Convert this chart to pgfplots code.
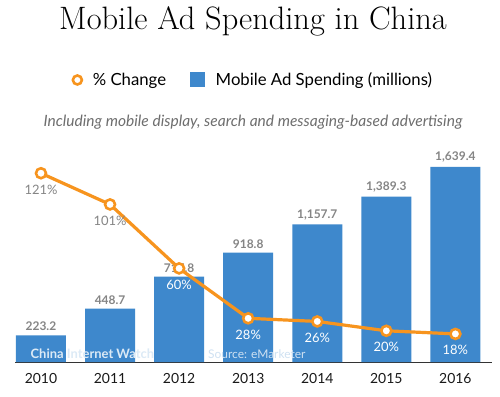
\documentclass[border=0pt]{standalone}
\usepackage{pgfplots}
\pgfplotsset{compat=1.18}
\usepackage{fontspec}
\setsansfont{Lato}
\newfontfamily\latofont{Lato}
\definecolor{barblue}{HTML}{3E88CC}
\definecolor{lineorange}{HTML}{F7941E}
\definecolor{labelgray}{HTML}{858585}
\definecolor{subgray}{HTML}{6E6E6E}
\begin{document}
\begin{tikzpicture}
\fill[white] (0,0) rectangle (500bp,397bp);
% title
\node[anchor=base, font=\fontsize{32.5}{32.5}\selectfont] at (253bp,367bp) {Mobile Ad Spending in China};
% subtitle
\node[anchor=base, font=\latofont\itshape\fontsize{15.6}{15.6}\selectfont, text=subgray] at (253bp,270bp) {Including mobile display, search and messaging-based advertising};
% bar axis
\begin{axis}[
  at={(15bp,35bp)}, anchor=south west,
  scale only axis, width=477bp, height=200bp,
  xmin=-0.376, xmax=6.53, ymin=0, ymax=1681.4,
  axis x line*=bottom, axis y line=none,
  x axis line style={draw=black!80, line width=0.8bp, -},
  xtick={0,...,6}, xticklabels={2010,2011,2012,2013,2014,2015,2016},
  major tick length=0pt,
  xticklabel style={font=\latofont\fontsize{14}{14}\selectfont, text=black!90, yshift=-8bp},
  /pgf/number format/assume math mode=true,
  clip=false,
]
\addplot[ybar, bar width=50bp, fill=barblue, draw=none,
  point meta=explicit symbolic,
  nodes near coords={\pgfplotspointmeta},
  every node near coord/.append style={font=\latofont\bfseries\fontsize{12}{12}\selectfont, text=labelgray, anchor=south, yshift=1bp}]
  coordinates {
  (0,223.2) [223.2]
  (1,448.7) [448.7]
  (2,717.8) [717.8]
  (3,918.8) [918.8]
  (4,1157.7) [1,157.7]
  (5,1389.3) [1,389.3]
  (6,1639.4) [1,639.4]
  };
\node[anchor=base west, font=\latofont\bfseries\fontsize{13}{13}\selectfont, text=white!82!barblue] at (axis cs:-0.2,0) [yshift=4bp] {China Internet Watch};
\node[anchor=base west, font=\latofont\fontsize{12}{12}\selectfont, text=white!75!barblue] at (axis cs:2.37,0) [yshift=4bp] {Source: eMarketer};
\end{axis}
% line axis
\begin{axis}[
  at={(15bp,35bp)}, anchor=south west,
  scale only axis, width=477bp, height=200bp,
  xmin=-0.376, xmax=6.53, ymin=0, ymax=128.2,
  hide axis, clip=false,
  legend style={draw=none, fill=none, at={(0.5,1.41)}, anchor=center,
    font=\latofont\fontsize{16.8}{16.8}\selectfont, legend columns=2,
    /tikz/every odd column/.append style={column sep=9bp},
    /tikz/every even column/.append style={column sep=22bp},
    legend cell align=left},
]
\addlegendimage{only marks, mark=*, mark size=4.5bp, mark options={draw=lineorange, fill=white, line width=2.6bp}}
\addlegendentry{\% Change}
\addlegendimage{legend image code/.code={\fill[barblue] (0.05cm,-0.22cm) rectangle (0.55cm,0.28cm);}}
\addlegendentry{Mobile Ad Spending (millions)}
\addplot[lineorange, line width=3.2bp, mark=*, mark size=5bp,
  mark options={draw=lineorange, fill=white, line width=2.6bp},
  point meta=explicit symbolic,
  nodes near coords={\pgfplotspointmeta},
  every node near coord/.append style={font=\latofont\fontsize{13}{13}\selectfont, anchor=north, yshift=-7bp}, forget plot]
  coordinates {
  (0,121) [\textcolor{labelgray}{121\%}]
  (1,101) [\textcolor{labelgray}{101\%}]
  (2,60) [\textcolor{white}{60\%}]
  (3,28) [\textcolor{white}{28\%}]
  (4,26) [\textcolor{white}{26\%}]
  (5,20) [\textcolor{white}{20\%}]
  (6,18) [\textcolor{white}{18\%}]
  };
\end{axis}
\pgfresetboundingbox
\path[use as bounding box] (0,0) rectangle (500bp,397bp);
\end{tikzpicture}
\end{document}
